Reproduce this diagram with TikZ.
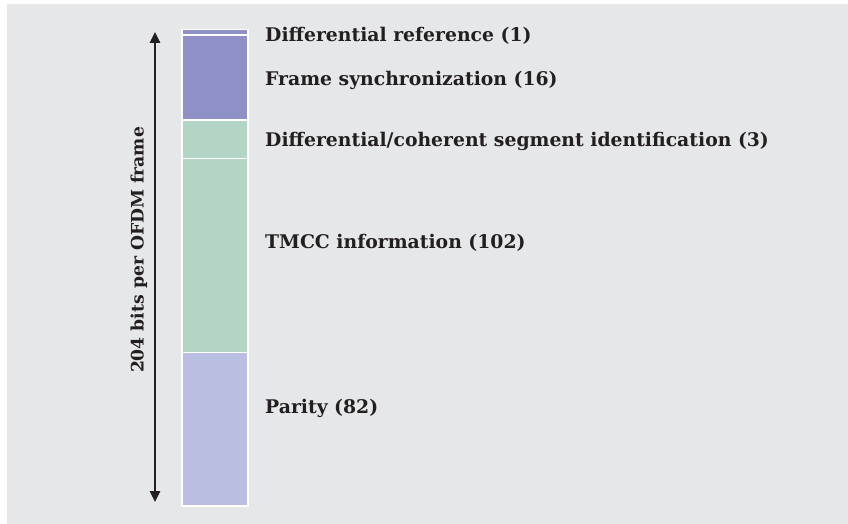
\documentclass[tikz,border=0pt]{standalone}
\usepackage{fontspec}
\setmainfont{DejaVu Serif}
\usetikzlibrary{arrows.meta}
\definecolor{bg}{HTML}{E6E7E9}
\definecolor{purp}{HTML}{8E90C6}
\definecolor{grn}{HTML}{B4D4C6}
\definecolor{lav}{HTML}{BABEE0}
\definecolor{ink}{HTML}{231F20}
\tikzset{
  seg/.style={draw=white, line width=1.3pt},
  lbl/.style={anchor=west, inner sep=0pt, font=\fontsize{18.8}{22}\selectfont\bfseries, text=ink},
  sidelbl/.style={inner sep=0pt, font=\fontsize{17.2}{20}\selectfont\bfseries, text=ink},
}
\begin{document}
\begin{tikzpicture}[x=1pt, y=-1pt]
\useasboundingbox (0,0) rectangle (848,524);
\fill[white] (0,0) rectangle (848,524);
\fill[bg] (7,4) rectangle (848,524);
% bar segments
\filldraw[seg, fill=purp] (182,29.5) rectangle (248,35);
\filldraw[seg, fill=purp] (182,35) rectangle (248,120);
\filldraw[seg, fill=grn] (182,120) rectangle (248,158.5);
\filldraw[seg, fill=grn] (182,158.5) rectangle (248,352.5);
\filldraw[seg, fill=lav] (182,352.5) rectangle (248,506);
% labels
\node[lbl] (l1) at (265,36) {Differential reference (1)};
\node[lbl] (l2) at (265,80) {Frame synchronization (16)};
\node[lbl] (l3) at (265,141) {Differential/coherent segment identification (3)};
\node[lbl] (l4) at (265,243) {TMCC information (102)};
\node[lbl] (l5) at (265,408) {Parity (82)};
% arrow
\coordinate (atop) at (155,32);
\coordinate (abot) at (155,502);
\draw[ink, line width=1.3pt, {Triangle[length=11pt,width=10.5pt]}-{Triangle[length=11pt,width=10.5pt]}] (atop) -- (abot);
\node[sidelbl, rotate=90] (side) at (139,250) {204 bits per OFDM frame};
\end{tikzpicture}
\end{document}
